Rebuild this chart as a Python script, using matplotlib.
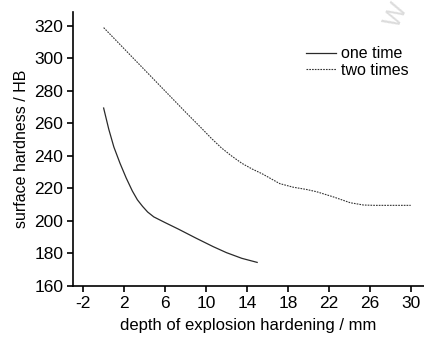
import numpy as np
import matplotlib
matplotlib.use('Agg')
from matplotlib import pyplot as plt

# one explosion
x_one = [0, 0.5, 1.0, 1.6, 2.2, 2.8, 3.3, 3.8, 4.3, 4.9, 6.0, 7.3, 9.0, 10.7, 12.0, 13.5, 15.0]
y_one = [269.5, 256.5, 245.5, 235.5, 226.5, 218.5, 213, 209, 205.5, 202.5, 199, 195, 189.5, 184.2, 180.5, 177, 174.5]
# two explosions
x_two = [0, 2, 4, 6, 8, 9.5, 10.5, 11.5, 12.5, 13.5, 14.5, 15.5, 17.2, 18.5, 19.8, 20.8, 22.4, 24.1, 25.4, 26.5, 30]
y_two = [319, 306, 293, 280, 267, 257.5, 251, 245, 240, 235.5, 232, 229, 223, 220.8, 219.4, 218, 214.9, 211.2, 209.8, 209.6, 209.6]

xticks = [-2, 2, 6, 10, 14, 18, 22, 26, 30]
yticks = [160, 180, 200, 220, 240, 260, 280, 300, 320]

plt.rcParams['font.family'] = ['Liberation Sans', 'DejaVu Sans']
plt.rcParams['axes.unicode_minus'] = False

fig = plt.figure(figsize=(4.24, 3.38), dpi=100)
ax = fig.add_axes([0.172, 0.154, 0.828, 0.81])
ax.plot(x_one, y_one, color='#2a2a2a', lw=0.9, ls='-', label='one time')
ax.plot(x_two, y_two, color='#333333', lw=0.8, ls=(0, (1.5, 1)), label='two times')
ax.set_xlim(-3, 31.3)
ax.set_ylim(160, 328.5)
ax.set_xticks(xticks)
ax.set_yticks(yticks)
ax.tick_params(labelsize=12.5, length=4, width=1.2, direction='out', pad=3)
for s in ['top', 'right']:
    ax.spines[s].set_visible(False)
for s in ['left', 'bottom']:
    ax.spines[s].set_linewidth(1.2)
ax.set_xlabel('depth of explosion hardening / mm', fontsize=12, labelpad=5)
ax.set_ylabel('surface hardness / HB', fontsize=11.5, labelpad=4)
leg = ax.legend(loc='upper left', bbox_to_anchor=(0.641, 0.905), frameon=False,
                fontsize=11.5, handlelength=1.9, handletextpad=0.3, labelspacing=0.12,
                borderpad=0)
fig.text(0.935, 0.955, 'W', fontsize=18, color='#dcdcdc', rotation=65, ha='center', va='center')
fig.savefig('out.png', dpi=100)
